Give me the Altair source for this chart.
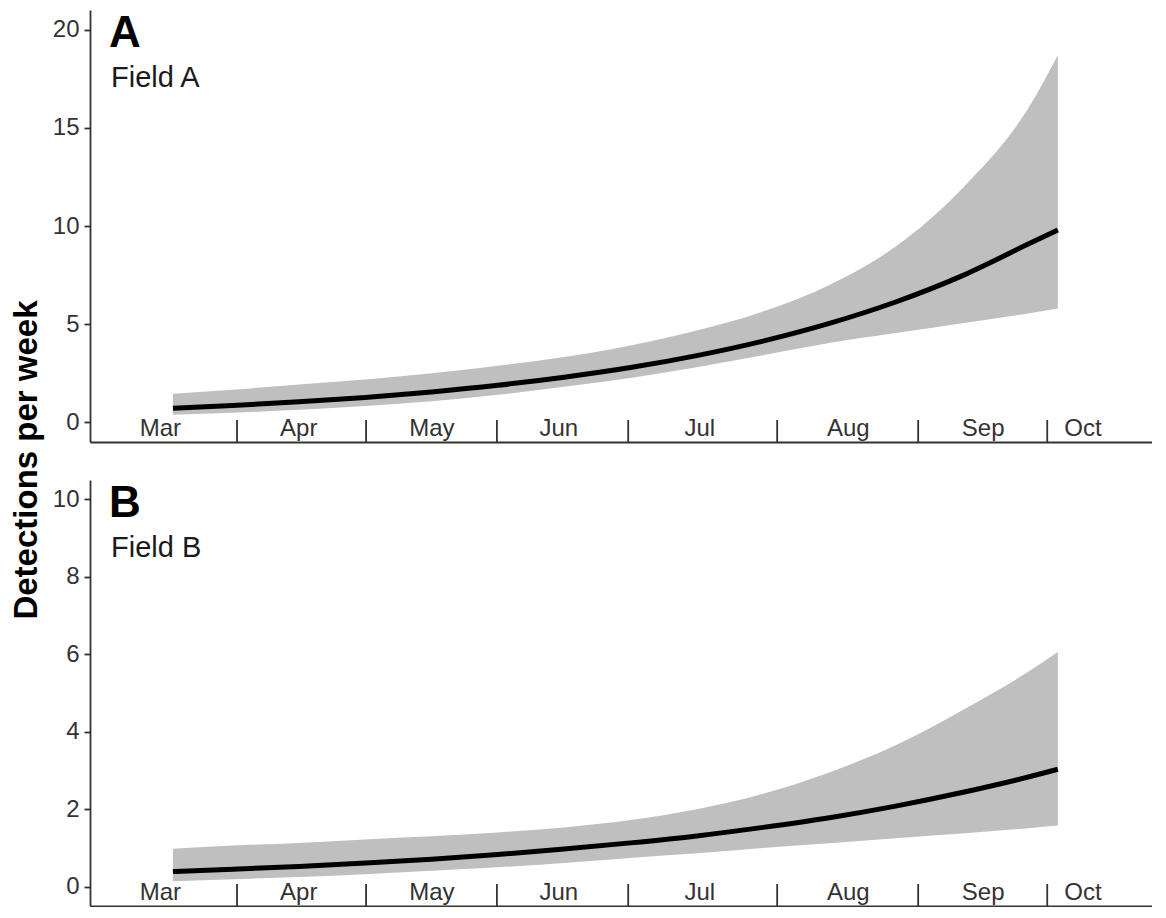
import altair as alt
import pandas as pd

# ---- data (x = days since 1 March) ----
days = [16.5, 30, 45, 60, 75, 90, 105, 120, 135, 150, 165, 180, 195, 210, 216.7]

a_fit = [0.72, 0.86, 1.05, 1.27, 1.55, 1.89, 2.30, 2.79, 3.40, 4.14, 5.04, 6.13, 7.46, 9.08, 9.80]
a_upper = [1.46, 1.66, 1.93, 2.18, 2.50, 2.88, 3.33, 3.92, 4.68, 5.65, 7.00, 8.95, 11.9, 16.0, 18.7]
a_lower = [0.39, 0.49, 0.64, 0.83, 1.07, 1.40, 1.81, 2.26, 2.81, 3.42, 4.04, 4.55, 5.05, 5.55, 5.80]

b_fit = [0.39, 0.45, 0.52, 0.61, 0.71, 0.83, 0.97, 1.13, 1.31, 1.53, 1.78, 2.08, 2.43, 2.83, 3.03]
b_upper = [0.98, 1.06, 1.13, 1.22, 1.30, 1.40, 1.53, 1.72, 2.00, 2.40, 2.95, 3.65, 4.55, 5.55, 6.06]
b_lower = [0.14, 0.19, 0.25, 0.32, 0.41, 0.50, 0.61, 0.74, 0.86, 1.00, 1.12, 1.25, 1.37, 1.51, 1.58]

month_names = ["Mar", "Apr", "May", "Jun", "Jul", "Aug", "Sep", "Oct"]
month_label_days = [13.65, 44.96, 75.1, 103.8, 135.7, 169.3, 199.8, 222.4]
month_break_days = [31, 60.2, 89.8, 119.5, 153.2, 185.1, 214.3]

a_ticks = [0, 5, 10, 15, 20]
b_ticks = [0, 2, 4, 6, 8, 10]

FONT = "Liberation Sans"
WIDTH = 1062
X_DOMAIN = [-2.26, 238.0]


def panel(fit, lo, hi, ydomain, yticks, letter, field, height, with_title):
    df = pd.DataFrame({"day": days, "fit": fit, "lo": lo, "hi": hi})
    xs = alt.Scale(domain=X_DOMAIN, nice=False, zero=False)
    ys = alt.Scale(domain=ydomain, nice=False, zero=False)
    yaxis = alt.Axis(values=yticks, title=None, grid=False, tickSize=6,
                     labelPadding=5, labelFontSize=24, labelFont=FONT,
                     labelColor="#333333", domainColor="#333333",
                     tickColor="#333333", domainWidth=1.8, tickWidth=1.8)
    xaxis = alt.Axis(labels=False, ticks=False, title=None, grid=False,
                     domainColor="#333333", domainWidth=1.8)

    band = alt.Chart(df).mark_area(color="#BFBFBF", opacity=1,
                                   interpolate="monotone").encode(
        x=alt.X("day:Q", scale=xs, axis=xaxis),
        y=alt.Y("lo:Q", scale=ys, axis=yaxis),
        y2="hi:Q",
    )
    line = alt.Chart(df).mark_line(color="black", strokeWidth=5,
                                   interpolate="monotone").encode(
        x=alt.X("day:Q", scale=xs, axis=xaxis),
        y=alt.Y("fit:Q", scale=ys, axis=yaxis),
    )
    seps = alt.Chart(pd.DataFrame({"day": month_break_days})).mark_rule(
        color="#333333", strokeWidth=1.8).encode(
        x=alt.X("day:Q", scale=xs, axis=xaxis),
        y=alt.value(height), y2=alt.value(height - 22),
    )
    labels = alt.Chart(pd.DataFrame({"day": month_label_days, "m": month_names})).mark_text(
        fontSize=24, font=FONT, baseline="alphabetic", align="center",
        color="#333333").encode(
        x=alt.X("day:Q", scale=xs, axis=xaxis),
        y=alt.value(height - 6),
        text="m:N",
    )
    letter_t = alt.Chart(pd.DataFrame({"t": [letter]})).mark_text(
        fontSize=44, font=FONT, fontWeight="bold", align="left",
        baseline="alphabetic", color="black").encode(
        x=alt.value(19), y=alt.value(37), text="t:N")
    field_t = alt.Chart(pd.DataFrame({"t": [field]})).mark_text(
        fontSize=29, font=FONT, align="left", baseline="alphabetic",
        color="#1a1a1a").encode(
        x=alt.value(21), y=alt.value(77), text="t:N")

    layers = [band, line, seps, labels, letter_t, field_t]
    if with_title:
        title_t = alt.Chart(pd.DataFrame({"t": ["Detections per week"]})).mark_text(
            fontSize=33, font=FONT, fontWeight="bold", angle=270,
            align="center", baseline="middle", color="black").encode(
            x=alt.value(-63), y=alt.value(450), text="t:N")
        layers.append(title_t)
    return alt.layer(*layers).properties(width=WIDTH, height=height)


pa = panel(a_fit, a_lower, a_upper, [-1, 21], a_ticks, "A", "Field A", 432, True)
pb = panel(b_fit, b_lower, b_upper, [-0.5, 10.5], b_ticks, "B", "Field B", 426, False)

chart = alt.vconcat(pa, pb, spacing=38, bounds="flush").properties(
    padding={"left": 3, "top": 2, "right": 0, "bottom": 0},
    background="white",
).configure_view(strokeWidth=0, stroke="transparent")

chart.save("out.html", embed_options={"renderer": "svg", "actions": False})
